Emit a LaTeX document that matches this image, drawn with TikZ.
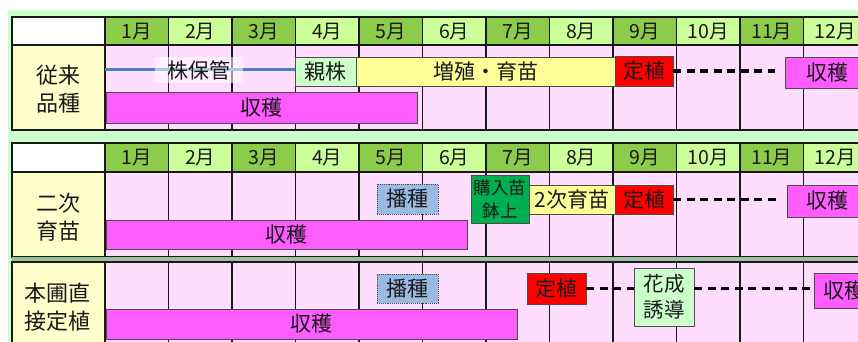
\documentclass[tikz,border=0pt]{standalone}
\usepackage{fontspec}
\setmainfont{Noto Sans CJK JP}
\definecolor{bgg}{HTML}{CCFFCC}
\definecolor{hdark}{HTML}{8DCB4B}
\definecolor{hlight}{HTML}{CCFF99}
\definecolor{pinkb}{HTML}{FFDDFF}
\definecolor{labely}{HTML}{FFFFCC}
\definecolor{mag}{HTML}{FF5CFF}
\definecolor{yel}{HTML}{FFFF99}
\definecolor{grn}{HTML}{00B050}
\definecolor{lgrn}{HTML}{CCFFCC}
\definecolor{blu}{HTML}{99BBE3}
\definecolor{bline}{HTML}{4F81BD}
\definecolor{sepc}{HTML}{9CC09C}
\begin{document}
\begin{tikzpicture}[x=1pt,y=-1pt,
  gridl/.style={line width=1.8pt, draw=black!90},
  bx/.style={draw=black!70, line width=0.9pt, inner sep=0pt, anchor=center, text=black!90, font=\fontsize{21}{25}\selectfont},
  bx2/.style={bx, align=center, font=\fontsize{20.5}{26}\selectfont},
  dsh/.style={line width=3.4pt, dash pattern=on 8pt off 5.5pt, draw=black},
  mon/.style={font=\fontsize{19.5}{21}\selectfont, text=black!90, inner sep=0pt},
  lbl/.style={font=\fontsize{22}{28}\selectfont, align=center, text=black!90, inner sep=0pt}]
\useasboundingbox (0,0) rectangle (858,342);
\clip (0,0) rectangle (858,342);
\fill[white] (0,0) rectangle (858,342);
\fill[bgg] (8,10) rectangle (870,350);

% ---------- table 1 ----------
\fill[white] (12,17) rectangle (105,45);
\fill[labely] (12,45) rectangle (105,130);
\fill[pinkb] (105,45) rectangle (870,130);
\foreach \k/\c [evaluate=\k as \xa using 105+(\k-1)*63.5, evaluate=\k as \xb using 105+\k*63.5, evaluate=\k as \xc using 105+(\k-0.5)*63.5] in {1/hdark,2/hlight,3/hdark,4/hlight,5/hdark,6/hlight,7/hdark,8/hlight,9/hdark,10/hlight,11/hdark,12/hlight} {
  \fill[\c] (\xa,17) rectangle (\xb,45);
  \node[mon] (ta\k) at (\xc,31.5) {{\k}月};
}
\foreach \k in {0,...,11} \draw[gridl] (105+\k*63.5,17) -- (105+\k*63.5,130);
\draw[gridl] (870,17) -- (12,17) -- (12,130) -- (870,130);
\draw[gridl] (12,45) -- (870,45);
\node[lbl] (lab1) at (58,89) {従来\\品種};

% ---------- table 2 ----------
\fill[white] (12,143) rectangle (105,172);
\fill[labely] (12,172) rectangle (105,257);
\fill[pinkb] (105,172) rectangle (870,257);
\foreach \k/\c [evaluate=\k as \xa using 105+(\k-1)*63.5, evaluate=\k as \xb using 105+\k*63.5, evaluate=\k as \xc using 105+(\k-0.5)*63.5] in {1/hdark,2/hlight,3/hdark,4/hlight,5/hdark,6/hlight,7/hdark,8/hlight,9/hdark,10/hlight,11/hdark,12/hlight} {
  \fill[\c] (\xa,143) rectangle (\xb,172);
  \node[mon] (tb\k) at (\xc,158) {{\k}月};
}
\foreach \k in {0,...,11} \draw[gridl] (105+\k*63.5,143) -- (105+\k*63.5,257);
\draw[gridl] (870,143) -- (12,143) -- (12,257) -- (870,257);
\draw[gridl] (12,172) -- (870,172);
\node[lbl] (lab2) at (58,217.5) {二次\\育苗};

% ---------- separator ----------
\fill[sepc] (12,257) rectangle (870,262);

% ---------- table 3 ----------
\fill[labely] (12,262) rectangle (105,350);
\fill[pinkb] (105,262) rectangle (870,350);
\foreach \k in {0,...,11} \draw[gridl] (105+\k*63.5,262) -- (105+\k*63.5,350);
\draw[gridl] (870,262) -- (12,262) -- (12,350);
\node[lbl] (lab3) at (57,307) {本圃直\\接定植};

% ---------- bars, table 1 ----------
\node[bx, fill=lgrn, minimum width=61pt, minimum height=29pt] (oya) at (325.5,71.5) {親株};
\coordinate (kst) at (105,70);
\draw[bline, line width=3pt] (kst) -- (kst -| oya.west);
\node[inner sep=0pt, fill=white, fill opacity=0.55, text opacity=1, minimum width=88pt, minimum height=26pt, text=black!90, font=\fontsize{21}{25}\selectfont] (kabu) at (199,70) {株保管};
\node[bx, fill=yel, minimum width=259pt, minimum height=29pt] (zos) at (485.5,71.5) {増殖・育苗};
\node[bx, fill=red, minimum width=58pt, minimum height=30pt] (tei1) at (644,71) {定植};
\node[bx, fill=mag, minimum width=84pt, minimum height=31pt] (shu1r) at (827,72.5) {収穫};
\node[bx, fill=mag, minimum width=311pt, minimum height=31pt] (shu1) at (261.5,107.5) {収穫};
\draw[dsh, shorten >=10pt] (tei1.east) -- (tei1.east -| shu1r.west);

% ---------- bars, table 2 ----------
\node[bx, fill=blu, densely dotted, minimum width=61pt, minimum height=30pt] (has2) at (407.5,199) {播種};
\node[bx, fill=mag, minimum width=361pt, minimum height=29pt] (shu2) at (286.5,234.5) {収穫};
\node[bx, fill=grn, align=center, font=\fontsize{17.5}{23}\selectfont, minimum width=58pt, minimum height=48pt] (kon) at (500,199.5) {購入苗\\鉢上};
\node[bx, fill=yel, minimum width=86pt, minimum height=29pt] (nij) at (572,199.5) {2次育苗};
\node[bx, fill=red, minimum width=58pt, minimum height=29pt] (tei2) at (644,199.5) {定植};
\node[bx, fill=mag, minimum width=80pt, minimum height=32pt] (shu2r) at (827,201) {収穫};
\draw[dsh, shorten >=9pt] (tei2.east) -- (tei2.east -| shu2r.west);

% ---------- bars, table 3 ----------
\node[bx, fill=blu, densely dotted, minimum width=61pt, minimum height=29pt] (has3) at (407.5,288.5) {播種};
\node[bx, fill=mag, minimum width=411pt, minimum height=30pt] (shu3) at (311.5,324) {収穫};
\node[bx, fill=red, minimum width=59pt, minimum height=31pt] (tei3) at (556.5,288.5) {定植};
\node[bx2, fill=lgrn, minimum width=60pt, minimum height=58pt] (kas) at (664,297) {花成\\誘導};
\node[bx, fill=mag, minimum width=60pt, minimum height=35pt] (shu3r) at (844,290.5) {収穫};
\draw[dsh] (tei3.east) -- (tei3.east -| kas.west);
\draw[dsh] (kas.east |- tei3.east) -- (shu3r.west |- tei3.east);
\end{tikzpicture}
\end{document}
